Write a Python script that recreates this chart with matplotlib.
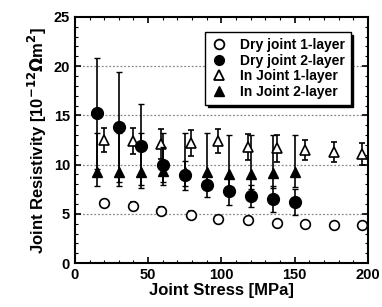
import matplotlib.pyplot as plt
from matplotlib.ticker import MultipleLocator
from matplotlib.lines import Line2D

plt.rcParams['font.family'] = ['Liberation Sans', 'DejaVu Sans']
plt.rcParams['font.weight'] = 'bold'

# Dry joint 1-layer (open circles)
x_d1 = [20, 40, 59, 79, 98, 118, 138, 157, 177, 196]
y_d1 = [6.1, 5.8, 5.3, 4.9, 4.5, 4.4, 4.1, 4.0, 3.9, 3.85]
e_d1 = [0.3, 0.4, 0.4, 0.4, 0.3, 0.3, 0.3, 0.3, 0.3, 0.3]

# Dry joint 2-layer (filled circles)
x_d2 = [15, 30, 45, 60, 75, 90, 105, 120, 135, 150]
y_d2 = [15.2, 13.85, 11.9, 10.0, 8.9, 7.9, 7.3, 6.8, 6.5, 6.2]
e_d2 = [5.6, 5.6, 4.3, 1.8, 1.5, 1.2, 1.4, 1.1, 1.3, 1.3]

# In Joint 1-layer (open triangles)
x_i1 = [20, 40, 59, 79, 98, 118, 138, 157, 177, 196]
y_i1 = [12.5, 12.4, 12.1, 12.2, 12.4, 11.8, 11.65, 11.5, 11.3, 11.1]
e_i1 = [1.2, 1.3, 1.5, 1.3, 1.2, 1.3, 1.4, 1.0, 1.0, 1.1]

# In Joint 2-layer (filled triangles)
x_i2 = [15, 30, 45, 60, 75, 90, 105, 120, 135, 150]
y_i2 = [9.3, 9.3, 9.3, 9.4, 9.3, 9.3, 9.0, 9.0, 9.1, 9.2]
e_i2_lo = [1.5, 1.5, 1.4, 1.5, 1.5, 1.5, 1.5, 1.5, 1.5, 1.5]
e_i2_hi = [3.9, 3.9, 3.9, 3.8, 3.9, 3.9, 4.0, 4.0, 3.9, 3.8]

labels = ['Dry joint 1-layer', 'Dry joint 2-layer', 'In Joint 1-layer', 'In Joint 2-layer']

fig = plt.figure(figsize=(3.82, 3.07), dpi=100)
ax = fig.add_axes([0.196, 0.143, 0.767, 0.802])

for yy in [5, 10, 15, 20]:
    ax.axhline(yy, color='#888888', ls=(0, (1.5, 1.5)), lw=0.9, zorder=0)

kw = dict(ecolor='black', elinewidth=1.2, capsize=2.5, capthick=1.0, ls='none')
ax.errorbar(x_i2, y_i2, yerr=[e_i2_lo, e_i2_hi], marker='^', ms=7.5,
            mfc='black', mec='black', zorder=3, **kw)
ax.errorbar(x_d2, y_d2, yerr=e_d2, marker='o', ms=8.5,
            mfc='black', mec='black', zorder=4, **kw)
ax.errorbar(x_i1, y_i1, yerr=e_i1, marker='^', ms=7,
            mfc='white', mec='black', mew=1.2, zorder=3, **kw)
ax.errorbar(x_d1, y_d1, yerr=e_d1, marker='o', ms=7,
            mfc='white', mec='black', mew=1.2, zorder=3, **kw)

ax.set_xlim(0, 200)
ax.set_ylim(0, 25)
ax.xaxis.set_major_locator(MultipleLocator(50))
ax.xaxis.set_minor_locator(MultipleLocator(10))
ax.yaxis.set_major_locator(MultipleLocator(5))
ax.yaxis.set_minor_locator(MultipleLocator(1))
ax.tick_params(which='both', direction='in', top=True, right=True, labelsize=10.5)
ax.tick_params(which='major', length=4, width=1.2)
ax.tick_params(which='minor', length=2, width=0.8)
for s in ax.spines.values():
    s.set_linewidth(1.5)

ax.set_xlabel('Joint Stress [MPa]', fontsize=12, fontweight='bold', labelpad=1)
ax.set_ylabel('Joint Resistivity [10$^{\\mathbf{-12}}$$\\mathbf{\\Omega}$m$^{\\mathbf{2}}$]',
              fontsize=12, fontweight='bold', labelpad=3)

handles = [
    Line2D([], [], ls='none', marker='o', ms=7, mfc='white', mec='black', mew=1.3),
    Line2D([], [], ls='none', marker='o', ms=7, mfc='black', mec='black'),
    Line2D([], [], ls='none', marker='^', ms=7, mfc='white', mec='black', mew=1.3),
    Line2D([], [], ls='none', marker='^', ms=7, mfc='black', mec='black'),
]
leg = ax.legend(handles, labels, loc='upper right',
                bbox_to_anchor=(0.965, 0.965), fontsize=10, frameon=True, fancybox=False,
                shadow={'color': 'black', 'alpha': 1}, edgecolor='black',
                handletextpad=0.9, borderpad=0.4, labelspacing=0.12, handlelength=1.2)
leg.get_frame().set_linewidth(1.0)

fig.savefig('out.png', dpi=100)
